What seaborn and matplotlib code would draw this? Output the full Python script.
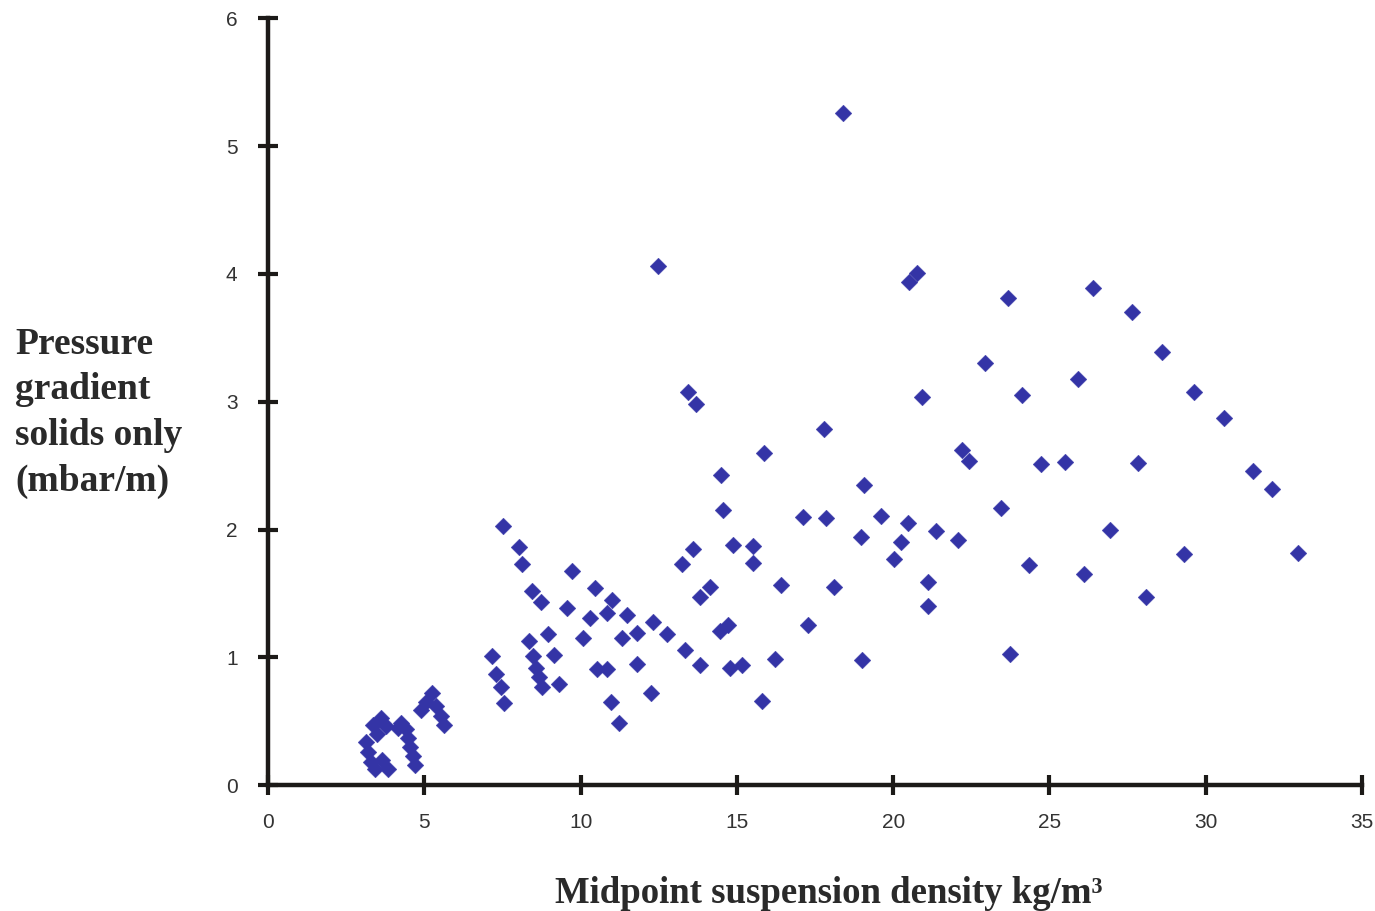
import matplotlib
matplotlib.use("Agg")
import matplotlib.pyplot as plt
import seaborn as sns
import pandas as pd

# Midpoint suspension density (kg/m3)
density = [
    3.12, 3.21, 3.30, 3.43, 3.61, 3.76, 3.47, 3.63, 3.85, 3.37,
    4.24, 4.40, 4.49, 4.55, 4.65, 4.71, 4.17,
    5.24, 5.04, 4.88, 5.37, 5.53, 5.62,
    7.52, 8.03, 8.11, 8.45, 8.74, 9.72, 10.45, 9.55, 10.99, 10.83,
    10.29, 11.48, 12.31, 12.75, 11.80, 11.31, 10.06, 8.94, 8.36, 9.16,
    8.46, 10.51, 10.83, 11.79, 8.58, 8.68, 9.32, 8.77, 7.17, 7.30,
    7.46, 7.55, 10.98, 11.23, 12.25,
    13.45, 13.70, 17.80, 15.87, 14.49, 14.55, 17.10, 17.84, 13.58, 14.89,
    15.53, 13.25, 15.52, 16.40, 18.10, 14.14, 13.82, 13.33, 14.46, 14.71,
    17.28, 13.81, 14.77, 15.15, 16.21, 15.79,
    20.92, 22.19, 22.44, 19.07, 23.46, 19.61, 20.47, 21.37, 22.07, 18.96,
    20.25, 20.02, 21.10, 21.10, 19.00,
    26.39, 23.69, 27.63, 28.59, 22.94, 25.92, 24.11, 24.74, 25.51, 27.85,
    26.95, 24.34, 26.10, 28.09, 23.74, 29.31,
    29.63, 30.59, 31.51, 32.12, 32.97,
    12.48, 18.41, 20.52, 20.75,
]

# Pressure gradient, solids only (mbar/m)
pressure = [
    0.34, 0.26, 0.18, 0.13, 0.53, 0.46, 0.40, 0.20, 0.13, 0.47,
    0.49, 0.44, 0.37, 0.30, 0.23, 0.16, 0.45,
    0.72, 0.65, 0.59, 0.62, 0.54, 0.47,
    2.03, 1.86, 1.73, 1.52, 1.43, 1.68, 1.54, 1.39, 1.45, 1.35,
    1.31, 1.33, 1.28, 1.18, 1.19, 1.15, 1.15, 1.18, 1.13, 1.02,
    1.01, 0.91, 0.91, 0.95, 0.92, 0.85, 0.79, 0.77, 1.01, 0.87,
    0.77, 0.64, 0.65, 0.49, 0.72,
    3.08, 2.98, 2.79, 2.60, 2.43, 2.15, 2.10, 2.09, 1.85, 1.88,
    1.87, 1.73, 1.74, 1.57, 1.55, 1.55, 1.47, 1.06, 1.21, 1.25,
    1.25, 0.94, 0.92, 0.94, 0.99, 0.66,
    3.04, 2.62, 2.54, 2.35, 2.17, 2.11, 2.05, 1.99, 1.92, 1.94,
    1.90, 1.77, 1.59, 1.40, 0.98,
    3.89, 3.81, 3.70, 3.39, 3.30, 3.18, 3.05, 2.51, 2.53, 2.52,
    2.00, 1.72, 1.65, 1.47, 1.03, 1.81,
    3.08, 2.87, 2.46, 2.32, 1.82,
    4.06, 5.26, 3.94, 4.01,
]

x_ticks = [0, 5, 10, 15, 20, 25, 30, 35]
y_ticks = [0, 1, 2, 3, 4, 5, 6]

x_label = "Midpoint suspension density kg/m³"
y_label = "Pressure\ngradient\nsolids only\n(mbar/m)"

df = pd.DataFrame({"density": density, "pressure": pressure})

sns.set_theme(style="white")
plt.rcParams["font.family"] = ["Liberation Sans", "DejaVu Sans"]

fig = plt.figure(figsize=(13.75, 9.11), dpi=100)
ax = fig.add_axes([0.195, 0.138, 0.7955, 0.842])

sns.scatterplot(data=df, x="density", y="pressure", ax=ax, marker="D",
                s=72, color="#3434a6", edgecolor="#3434a6", linewidth=0.3,
                legend=False, clip_on=False, zorder=3)

ax.set_xlim(0, 35)
ax.set_ylim(0, 6)
ax.set_xticks(x_ticks)
ax.set_yticks(y_ticks)
ax.set_xticklabels([str(t) for t in x_ticks])
ax.set_yticklabels([str(t) for t in y_ticks])

for side in ["top", "right"]:
    ax.spines[side].set_visible(False)
for side in ["left", "bottom"]:
    ax.spines[side].set_linewidth(3.2)
    ax.spines[side].set_color("#1c1a18")
    ax.spines[side].set_capstyle("projecting")

ax.tick_params(axis="both", which="major", bottom=True, left=True,
               direction="inout", length=14, width=3,
               color="#1c1a18", labelsize=15, labelcolor="#333333")
ax.tick_params(axis="x", pad=13)
ax.tick_params(axis="y", pad=15)

ax.set_xlabel("")
ax.set_ylabel("")

fig.text(0.011, 0.547, y_label, fontsize=27, fontweight="bold",
         family=["Liberation Serif", "DejaVu Serif"], color="#2a2a2a",
         ha="left", va="center", linespacing=1.39)
fig.text(0.603, 0.009, x_label, fontsize=26.5, fontweight="bold",
         family=["Liberation Serif", "DejaVu Serif"], color="#2a2a2a",
         ha="center", va="baseline")

fig.savefig("out.png", dpi=100, facecolor="white")
